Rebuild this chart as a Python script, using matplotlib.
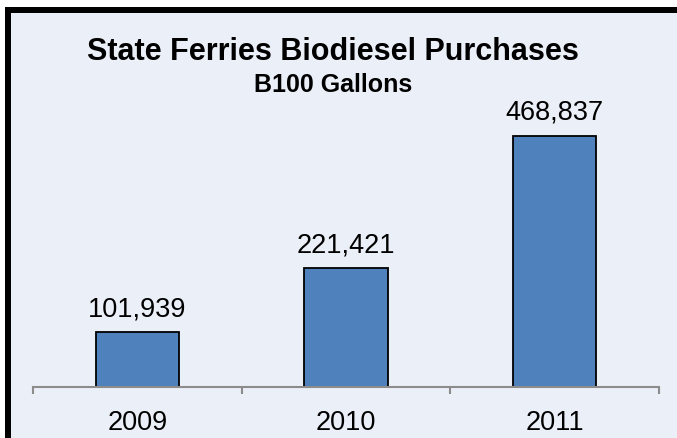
import matplotlib
matplotlib.use("Agg")
import matplotlib.pyplot as plt
from matplotlib.patches import Rectangle

years = ["2009", "2010", "2011"]
gallons = [101939, 221421, 468837]
value_labels = ["101,939", "221,421", "468,837"]

plt.rcParams['font.family'] = ['Liberation Sans', 'DejaVu Sans']

W, H = 677, 439
bg = "#EBEFF7"
fig = plt.figure(figsize=(W / 100, H / 100), dpi=100, facecolor=bg)

def px_rect(x0, y0, x1, y1, color):
    # pixel coords from the top-left corner
    fig.patches.append(Rectangle((x0 / W, 1 - y1 / H), (x1 - x0) / W, (y1 - y0) / H,
                                 transform=fig.transFigure, facecolor=color,
                                 edgecolor="none", zorder=0))

# cropped frame: white margin and thick black border on top/left
px_rect(0, 0, W, 8, "white")
px_rect(0, 0, 5, H, "white")
px_rect(5, 8, W, 14, "black")
px_rect(5, 8, 11, H, "black")

ax = fig.add_axes([33 / W, 51 / H, 626 / W, 374 / H])
ax.set_facecolor("none")
x = list(range(len(years)))
ax.bar(x, gallons, width=0.40, color="#4F81BD", edgecolor="black", linewidth=1.3, zorder=2)
ax.set_xlim(-0.5, 2.5)
ax.set_ylim(0, 698600)

for xi, v, lab in zip(x, gallons, value_labels):
    ax.annotate(lab, (xi, v), xytext=(0, 12.5), textcoords="offset points",
                ha="center", va="baseline", fontsize=19.5)

for s in ["top", "right", "left"]:
    ax.spines[s].set_visible(False)
ax.spines["bottom"].set_color("#8C8C8C")
ax.spines["bottom"].set_linewidth(1.5)
ax.spines["bottom"].set_zorder(3)
ax.set_yticks([])
ax.set_xticks(x)
ax.set_xticklabels(years, fontsize=19.5)
ax.tick_params(axis="x", which="major", length=0, pad=16)
ax.set_xticks([-0.5, 0.5, 1.5, 2.5], minor=True)
ax.tick_params(axis="x", which="minor", length=5, width=1.5, color="#8C8C8C", direction="out")

fig.text(333 / W, 1 - 60 / H, "State Ferries Biodiesel Purchases", ha="center", va="baseline",
         fontsize=22, fontweight="bold")
fig.text(333 / W, 1 - 92 / H, "B100 Gallons", ha="center", va="baseline",
         fontsize=18, fontweight="bold")

fig.savefig("out.png", dpi=100, facecolor=bg)
